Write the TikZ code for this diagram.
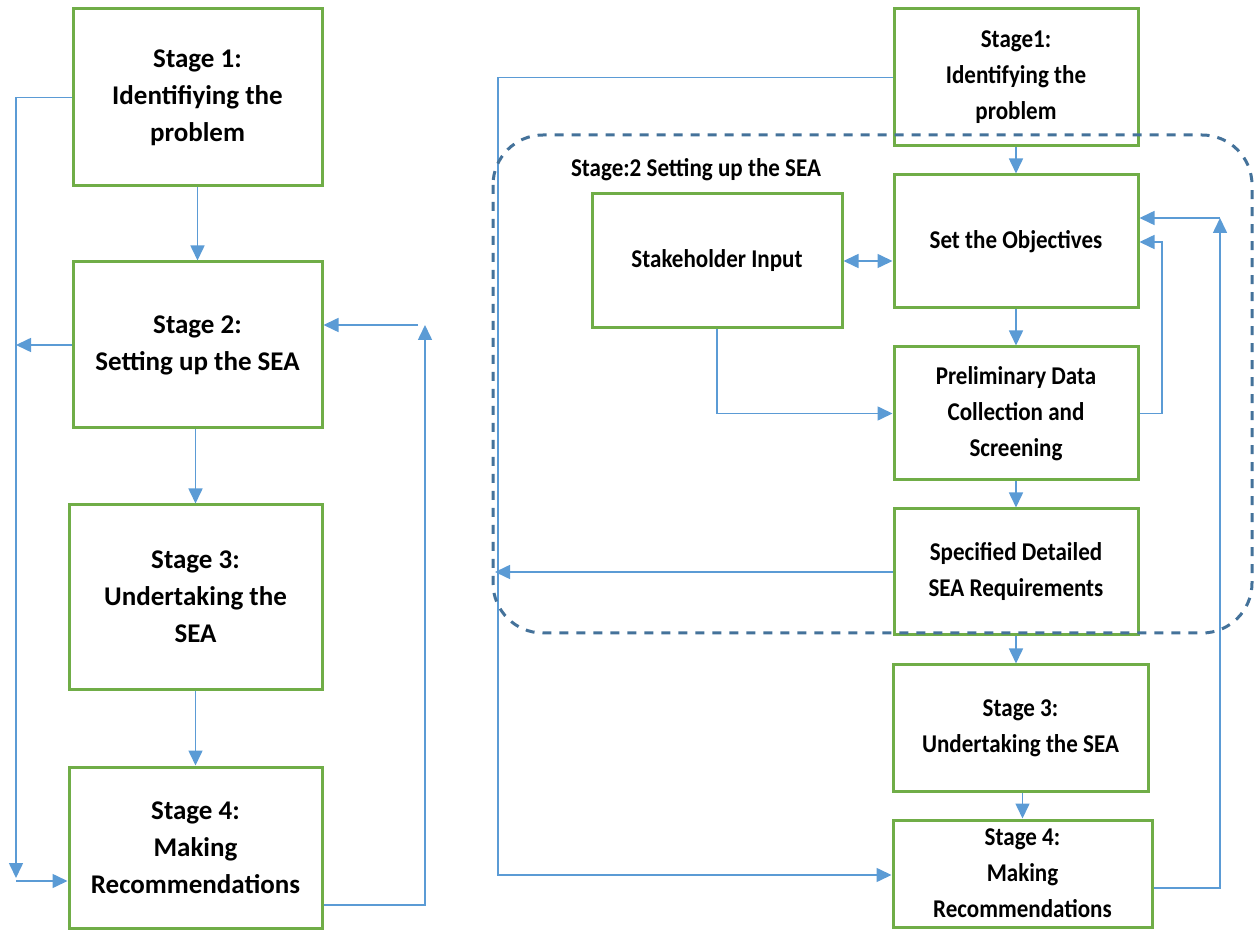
\documentclass[tikz,border=0pt]{standalone}
\usepackage{fontspec}
\setmainfont{Carlito}
\newfontfamily\rfont{Carlito}[FakeStretch=0.9]
\usetikzlibrary{arrows.meta,calc}
\definecolor{boxgreen}{HTML}{70AD47}
\definecolor{arrblue}{HTML}{5B9BD5}
\definecolor{dashblue}{HTML}{44729A}
\newcommand\lftext{\fontsize{13.5}{18.5}\selectfont\bfseries}
\newcommand\rttext{\rfont\fontsize{12.8}{18}\selectfont\bfseries}
\tikzset{
  box/.style={draw=boxgreen, line width=1.5pt, fill=white, align=center, inner sep=0pt, text=black},
  lbox/.style={box, font=\lftext},
  rbox/.style={box, font=\rttext},
  arr/.style={draw=arrblue, line width=0.8pt, -{Triangle[length=7.5pt,width=7pt]}},
  dbl/.style={draw=arrblue, line width=0.8pt, {Triangle[length=7.5pt,width=7pt]}-{Triangle[length=7.5pt,width=7pt]}},
  dashbox/.style={draw=dashblue, line width=1.5pt, dash pattern=on 4.5pt off 4pt, rounded corners=25pt},
  grplabel/.style={font=\rttext, inner sep=0pt}
}
\begin{document}
\begin{tikzpicture}[x=0.5pt,y=-0.5pt]
\useasboundingbox (0,0) rectangle (1254,930);

% ---------- left column ----------
\node[lbox, minimum width=124.5pt, minimum height=88.5pt] (L1) at (197.5,97.5) {Stage 1:\\Identifiying the\\problem};
\node[lbox, minimum width=124.5pt, minimum height=83pt] (L2) at (197.5,345) {Stage 2:\\Setting up the SEA};
\node[lbox, minimum width=126.5pt, minimum height=92pt] (L3) at (195.5,597) {Stage 3:\\Undertaking the\\SEA};
\node[lbox, minimum width=126.5pt, minimum height=80.5pt] (L4) at (195.5,847.5) {Stage 4:\\Making\\Recommendations};

\draw[arr] (L1.south) -- (L2.north);
\draw[arr] (L3.north |- L2.south) -- (L3.north);
\draw[arr] (L3.south) -- (L4.north);

\coordinate (a1) at (16,878);
\coordinate (a2) at (16,345);
\coordinate (a3) at (16,881);
\coordinate (a4) at (425,325);
\coordinate (a5) at (418,325);
\coordinate (r4) at (425,905);

\draw[arr] (L1.west) -| (a1);
\draw[arr] (L2.west) -- (a2);
\draw[arr] (a3) -- (a3 -| L4.west);
\draw[arr] (L4.east |- r4) -- (r4) -- (a4);
\draw[arr] (a5) -- (a5 -| L2.east);

% ---------- right column ----------
\node[rbox, minimum width=122pt, minimum height=68.5pt] (R1) at (1016,77.5) {Stage1:\\Identifying the\\problem};
\node[rbox, minimum width=122pt, minimum height=66.5pt] (R2) at (1016,241.5) {Set the Objectives};
\node[rbox, minimum width=125pt, minimum height=67pt] (RS) at (717,261) {Stakeholder Input};
\node[rbox, minimum width=122pt, minimum height=66.5pt] (R3) at (1016,413.5) {Preliminary Data\\Collection and\\Screening};
\node[rbox, minimum width=122pt, minimum height=63pt] (R4) at (1016,572) {Specified Detailed\\SEA Requirements};
\node[rbox, minimum width=127.5pt, minimum height=63pt] (R5) at (1020.5,728) {Stage 3:\\Undertaking the SEA};
\node[rbox, minimum width=129.5pt, minimum height=53.5pt] (R6) at (1022.5,873.5) {Stage 4:\\Making\\Recommendations};

\node[grplabel] (S2) at (696,170) {Stage:2 Setting up the SEA};

\draw[arr] (R1.south) -- (R2.north);
\draw[arr] (R2.south) -- (R3.north);
\draw[arr] (R3.south) -- (R4.north);
\draw[arr] (R4.south) -- (R4.south |- R5.north);
\draw[arr] (R6.north |- R5.south) -- (R6.north);

\draw[dbl] (RS.east) -- (RS.east -| R2.west);
\draw[arr] (RS.south) |- (R3.west);

\coordinate (c1) at (1162,242);
\draw[arr] (R3.east) -| (c1) -- (c1 -| R2.east);

\coordinate (c2) at (1220,218);
\coordinate (c3) at (1220,888);
\draw[arr] (c3 -| R6.east) -- (c3) -- (c2);
\draw[arr] (c2) -- (c2 -| R2.east);

\coordinate (c4) at (498,875);
\draw[arr] (R1.west) -| (c4) -- (c4 -| R6.west);

\coordinate (c5) at (495,572);
\draw[arr] (R4.west) -- (c5);

% dashed group frame
\draw[dashbox] (493,135) rectangle (1252,633);
\end{tikzpicture}
\end{document}
